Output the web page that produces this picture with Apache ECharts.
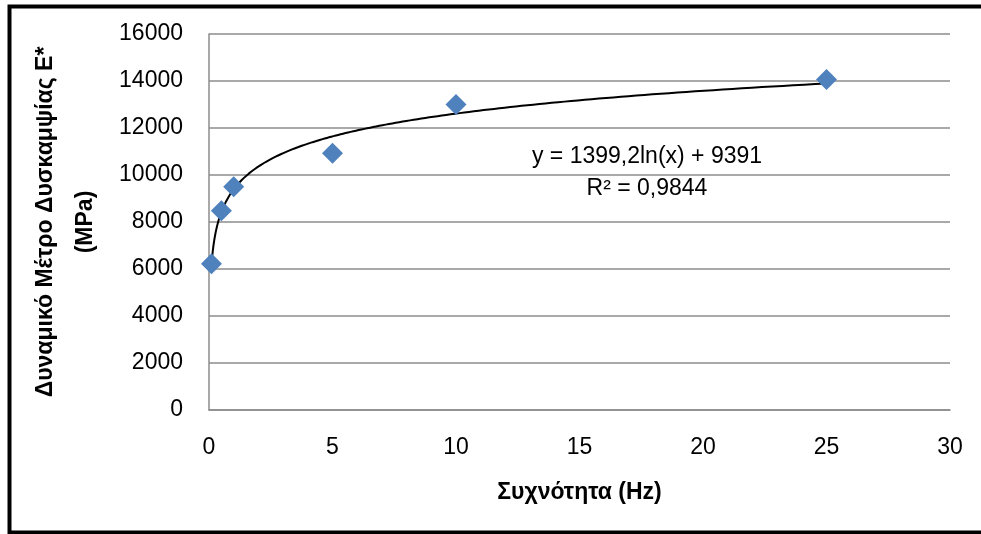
<!DOCTYPE html>
<html>
<head>
<meta charset="utf-8">
<script src="https://cdn.jsdelivr.net/npm/echarts@6/dist/echarts.min.js"></script>
<style>
  html, body { margin: 0; padding: 0; background: #fff; }
  #chart { width: 981px; height: 534px; }
</style>
</head>
<body>
<div id="chart"></div>
<script>
// Measured dynamic modulus at each loading frequency
const frequencies = [0.1, 0.5, 1, 5, 10, 25];
const modulus = [6220, 8480, 9500, 10930, 13000, 14060];

// Logarithmic trend line coefficients: y = a·ln(x) + b
const trendA = 1399.2;
const trendB = 9391;
const trendLabel = 'y = 1399,2ln(x) + 9391\nR² = 0,9844';

const xTicks = { min: 0, max: 30, interval: 5 };
const yTicks = { min: 0, max: 16000, interval: 2000 };

const xTitle = 'Συχνότητα (Hz)';
const yTitle = 'Δυναμικό Μέτρο Δυσκαμψίας Ε*\n(MPa)';

const FONT = '"Liberation Sans", Arial, sans-serif';

const points = frequencies.map((f, i) => [f, modulus[i]]);

// Trend curve sampled over the measured frequency range
const trend = [];
const x0 = frequencies[0], x1 = frequencies[frequencies.length - 1];
for (let k = 0; k <= 300; k++) {
  const x = x0 * Math.pow(x1 / x0, k / 300);
  trend.push([x, trendA * Math.log(x) + trendB]);
}

const chart = echarts.init(document.getElementById('chart'));
chart.setOption({
  animation: false,
  backgroundColor: '#ffffff',
  grid: { left: 209, right: 31, top: 34, bottom: 124, containLabel: false, outerBoundsMode: 'none' },
  xAxis: {
    type: 'value',
    min: xTicks.min, max: xTicks.max, interval: xTicks.interval,
    name: xTitle,
    nameLocation: 'middle',
    nameGap: 71,
    nameTextStyle: { fontFamily: FONT, fontSize: 23, fontWeight: 'bold', color: '#000' },
    axisLine: { show: true, lineStyle: { color: '#8c8c8c', width: 1.5 } },
    axisTick: { show: false },
    splitLine: { show: false },
    axisLabel: { fontFamily: FONT, fontSize: 23, color: '#000', margin: 26,
                 formatter: v => String(v) }
  },
  yAxis: {
    type: 'value',
    min: yTicks.min, max: yTicks.max, interval: yTicks.interval,
    axisLine: { show: true, lineStyle: { color: '#8c8c8c', width: 1.5 } },
    axisTick: { show: false },
    splitLine: { show: true, lineStyle: { color: '#8c8c8c', width: 1.5 } },
    axisLabel: { fontFamily: FONT, fontSize: 23, color: '#000', margin: 26,
                 formatter: v => String(v) }
  },
  series: [
    {
      type: 'line',
      data: trend,
      showSymbol: false,
      smooth: false,
      lineStyle: { color: '#000', width: 2 },
      z: 2
    },
    {
      type: 'scatter',
      data: points,
      symbol: 'diamond',
      symbolSize: [21, 21],
      itemStyle: { color: '#4f81bd', opacity: 1 },
      z: 3
    }
  ],
  graphic: [
    {
      // two-line vertical axis title
      type: 'text',
      x: 66, y: 222,
      rotation: Math.PI / 2,
      style: {
        text: yTitle,
        fontFamily: FONT, fontSize: 23, fontWeight: 'bold', fill: '#000',
        align: 'center', verticalAlign: 'middle', lineHeight: 40
      }
    },
    {
      type: 'text',
      x: 647, y: 173,
      style: {
        text: trendLabel,
        fontFamily: FONT, fontSize: 23, fill: '#000',
        align: 'center', verticalAlign: 'middle', lineHeight: 32
      }
    },
    {
      type: 'rect',
      shape: { x: 9.5, y: 6.5, width: 1000, height: 526 },
      style: { fill: 'none', stroke: '#000', lineWidth: 4 },
      silent: true
    }
  ]
});
</script>
</body>
</html>
